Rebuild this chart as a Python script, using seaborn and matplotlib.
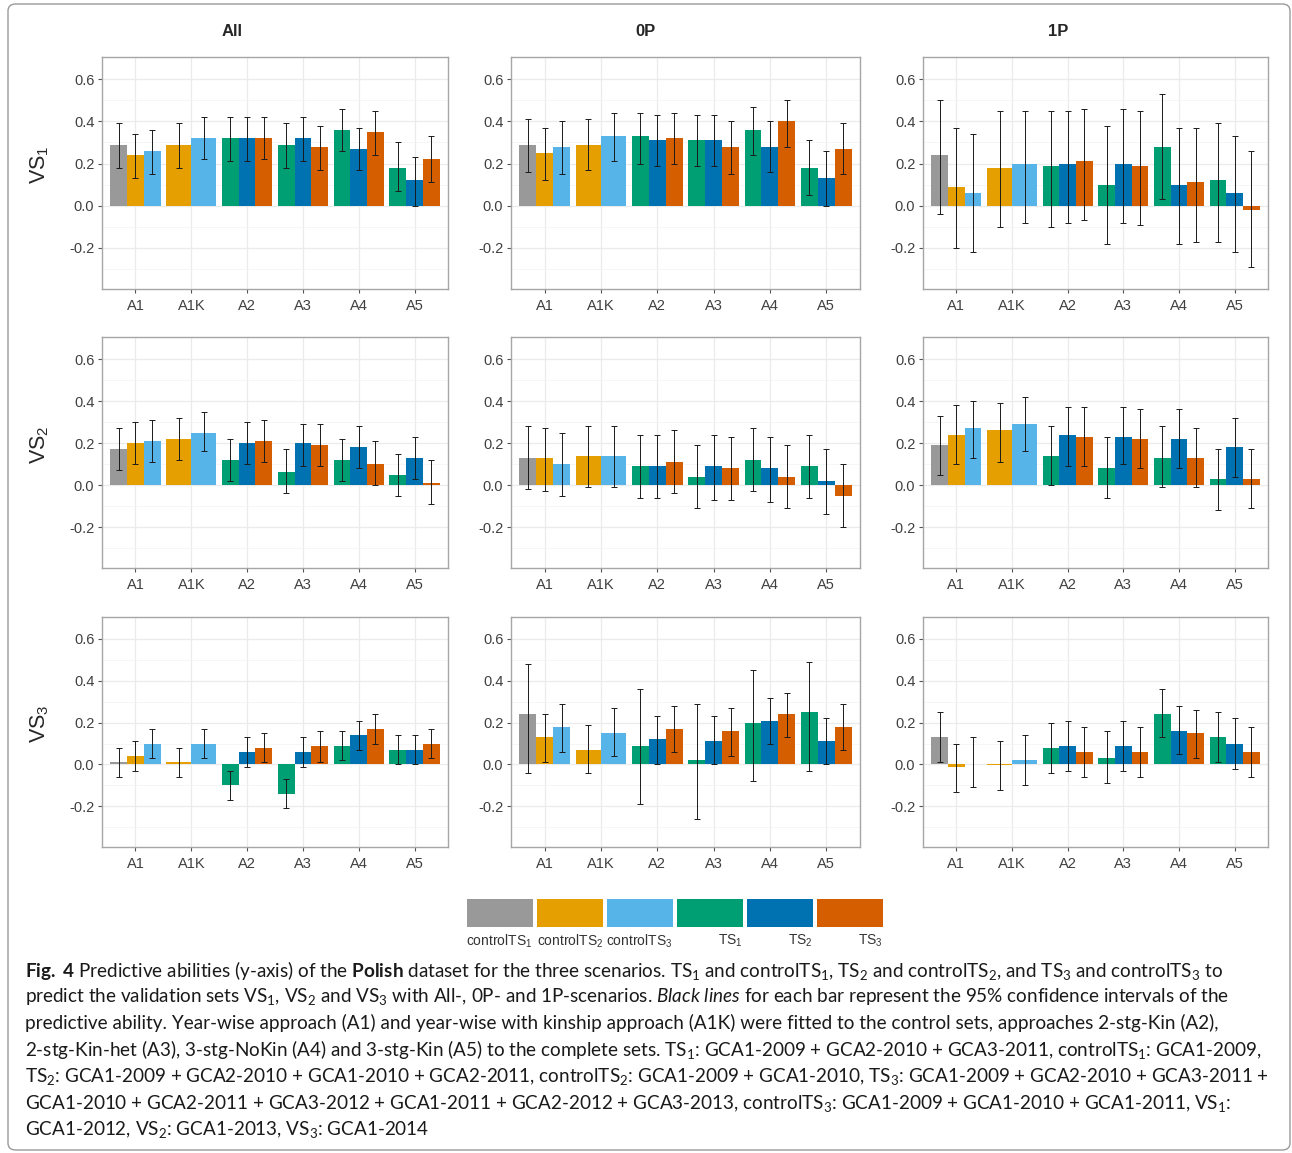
import numpy as np
import pandas as pd
import matplotlib
matplotlib.use("Agg")
import matplotlib.pyplot as plt
import seaborn as sns
from matplotlib.patches import Rectangle, FancyBboxPatch
from matplotlib.colors import to_rgba

# ---------------- data ----------------
APPROACHES = ["A1", "A1K", "A2", "A3", "A4", "A5"]
SETS = ["controlTS1", "controlTS2", "controlTS3", "TS1", "TS2", "TS3"]
SET_LABELS = ["controlTS$_1$", "controlTS$_2$", "controlTS$_3$", "TS$_1$", "TS$_2$", "TS$_3$"]
SET_COLORS = ["#999999", "#E69F00", "#56B4E9", "#009E73", "#0072B2", "#D55E00"]
SCENARIOS = ["All", "0P", "1P"]
VALIDATION = ["VS$_1$", "VS$_2$", "VS$_3$"]
Y_TICKS = [-0.2, 0.0, 0.2, 0.4, 0.6]
Y_TICK_LABELS = ["-0.2", "0.0", "0.2", "0.4", "0.6"]

BAR_APPROACH = ["A1"] * 3 + ["A1K"] * 2 + ["A2"] * 3 + ["A3"] * 3 + ["A4"] * 3 + ["A5"] * 3
BAR_SET = ["controlTS1", "controlTS2", "controlTS3", "controlTS2", "controlTS3"] + ["TS1", "TS2", "TS3"] * 4

# VS1
ALL_VS1 = [0.29, 0.24, 0.26, 0.29, 0.32, 0.32, 0.32, 0.32, 0.29, 0.32, 0.28, 0.36, 0.27, 0.35, 0.18, 0.12, 0.22]
ALL_VS1_LO = [0.18, 0.13, 0.15, 0.18, 0.22, 0.21, 0.21, 0.22, 0.18, 0.21, 0.17, 0.26, 0.17, 0.24, 0.07, 0.00, 0.11]
ALL_VS1_HI = [0.39, 0.34, 0.36, 0.39, 0.42, 0.42, 0.42, 0.42, 0.39, 0.42, 0.38, 0.46, 0.37, 0.45, 0.30, 0.23, 0.33]

P0_VS1 = [0.29, 0.25, 0.28, 0.29, 0.33, 0.33, 0.31, 0.32, 0.31, 0.31, 0.28, 0.36, 0.28, 0.40, 0.18, 0.13, 0.27]
P0_VS1_LO = [0.16, 0.12, 0.15, 0.17, 0.21, 0.20, 0.19, 0.20, 0.19, 0.19, 0.15, 0.24, 0.16, 0.28, 0.05, 0.00, 0.15]
P0_VS1_HI = [0.41, 0.37, 0.40, 0.41, 0.44, 0.44, 0.43, 0.44, 0.43, 0.43, 0.40, 0.47, 0.40, 0.50, 0.31, 0.26, 0.39]

P1_VS1 = [0.24, 0.09, 0.06, 0.18, 0.20, 0.19, 0.20, 0.21, 0.10, 0.20, 0.19, 0.28, 0.10, 0.11, 0.12, 0.06, -0.02]
P1_VS1_LO = [-0.04, -0.20, -0.22, -0.10, -0.08, -0.10, -0.08, -0.07, -0.18, -0.08, -0.09, 0.03, -0.18, -0.17, -0.17, -0.22, -0.29]
P1_VS1_HI = [0.50, 0.37, 0.34, 0.45, 0.45, 0.45, 0.45, 0.46, 0.38, 0.46, 0.45, 0.53, 0.37, 0.37, 0.39, 0.33, 0.26]

# VS2
ALL_VS2 = [0.17, 0.20, 0.21, 0.22, 0.25, 0.12, 0.20, 0.21, 0.06, 0.20, 0.19, 0.12, 0.18, 0.10, 0.05, 0.13, 0.01]
ALL_VS2_LO = [0.07, 0.10, 0.11, 0.12, 0.16, 0.02, 0.10, 0.11, -0.04, 0.09, 0.09, 0.02, 0.08, 0.00, -0.05, 0.03, -0.09]
ALL_VS2_HI = [0.27, 0.30, 0.31, 0.32, 0.35, 0.22, 0.30, 0.31, 0.17, 0.29, 0.29, 0.22, 0.28, 0.21, 0.15, 0.23, 0.12]

P0_VS2 = [0.13, 0.13, 0.10, 0.14, 0.14, 0.09, 0.09, 0.11, 0.04, 0.09, 0.08, 0.12, 0.08, 0.04, 0.09, 0.02, -0.05]
P0_VS2_LO = [-0.02, -0.03, -0.05, -0.01, -0.01, -0.06, -0.06, -0.04, -0.11, -0.07, -0.07, -0.03, -0.08, -0.11, -0.06, -0.14, -0.20]
P0_VS2_HI = [0.28, 0.27, 0.25, 0.28, 0.28, 0.24, 0.24, 0.26, 0.19, 0.24, 0.23, 0.27, 0.23, 0.19, 0.24, 0.17, 0.10]

P1_VS2 = [0.19, 0.24, 0.27, 0.26, 0.29, 0.14, 0.24, 0.23, 0.08, 0.23, 0.22, 0.13, 0.22, 0.13, 0.03, 0.18, 0.03]
P1_VS2_LO = [0.05, 0.10, 0.13, 0.11, 0.16, 0.00, 0.09, 0.09, -0.06, 0.10, 0.08, -0.01, 0.08, -0.01, -0.12, 0.04, -0.11]
P1_VS2_HI = [0.33, 0.38, 0.40, 0.39, 0.42, 0.28, 0.37, 0.37, 0.23, 0.37, 0.36, 0.28, 0.36, 0.27, 0.17, 0.32, 0.17]

# VS3
ALL_VS3 = [0.01, 0.04, 0.10, 0.01, 0.10, -0.10, 0.06, 0.08, -0.14, 0.06, 0.09, 0.09, 0.14, 0.17, 0.07, 0.07, 0.10]
ALL_VS3_LO = [-0.06, -0.03, 0.03, -0.06, 0.03, -0.17, -0.01, 0.01, -0.21, -0.01, 0.01, 0.02, 0.07, 0.10, 0.00, 0.00, 0.03]
ALL_VS3_HI = [0.08, 0.11, 0.17, 0.08, 0.17, -0.03, 0.13, 0.15, -0.07, 0.13, 0.16, 0.16, 0.21, 0.24, 0.14, 0.14, 0.17]

P0_VS3 = [0.24, 0.13, 0.18, 0.07, 0.15, 0.09, 0.12, 0.17, 0.02, 0.11, 0.16, 0.20, 0.21, 0.24, 0.25, 0.11, 0.18]
P0_VS3_LO = [-0.04, 0.01, 0.06, -0.04, 0.04, -0.19, 0.00, 0.06, -0.26, 0.00, 0.04, -0.08, 0.10, 0.13, -0.03, 0.00, 0.07]
P0_VS3_HI = [0.48, 0.24, 0.29, 0.19, 0.27, 0.36, 0.23, 0.28, 0.29, 0.23, 0.27, 0.45, 0.32, 0.34, 0.49, 0.22, 0.29]

P1_VS3 = [0.13, -0.01, 0.004, -0.003, 0.02, 0.08, 0.09, 0.06, 0.03, 0.09, 0.06, 0.24, 0.16, 0.15, 0.13, 0.10, 0.06]
P1_VS3_LO = [0.01, -0.13, -0.11, -0.12, -0.10, -0.04, -0.03, -0.06, -0.09, -0.03, -0.06, 0.13, 0.05, 0.03, 0.01, -0.02, -0.06]
P1_VS3_HI = [0.25, 0.10, 0.13, 0.11, 0.14, 0.20, 0.21, 0.18, 0.16, 0.21, 0.18, 0.36, 0.28, 0.26, 0.25, 0.22, 0.18]

PANELS = [
    [(ALL_VS1, ALL_VS1_LO, ALL_VS1_HI), (P0_VS1, P0_VS1_LO, P0_VS1_HI), (P1_VS1, P1_VS1_LO, P1_VS1_HI)],
    [(ALL_VS2, ALL_VS2_LO, ALL_VS2_HI), (P0_VS2, P0_VS2_LO, P0_VS2_HI), (P1_VS2, P1_VS2_LO, P1_VS2_HI)],
    [(ALL_VS3, ALL_VS3_LO, ALL_VS3_HI), (P0_VS3, P0_VS3_LO, P0_VS3_HI), (P1_VS3, P1_VS3_LO, P1_VS3_HI)],
]

CAPTION = [
    r"$\mathbf{Fig.}$ $\mathbf{4}$ Predictive abilities (y-axis) of the $\mathbf{Polish}$ dataset for the three scenarios. TS$_1$ and controlTS$_1$, TS$_2$ and controlTS$_2$, and TS$_3$ and controlTS$_3$ to",
    r"predict the validation sets VS$_1$, VS$_2$ and VS$_3$ with All-, 0P- and 1P-scenarios. $\mathit{Black}$ $\mathit{lines}$ for each bar represent the 95% confidence intervals of the",
    r"predictive ability. Year-wise approach (A1) and year-wise with kinship approach (A1K) were fitted to the control sets, approaches 2-stg-Kin (A2),",
    r"2-stg-Kin-het (A3), 3-stg-NoKin (A4) and 3-stg-Kin (A5) to the complete sets. TS$_1$: GCA1-2009 + GCA2-2010 + GCA3-2011, controlTS$_1$: GCA1-2009,",
    r"TS$_2$: GCA1-2009 + GCA2-2010 + GCA1-2010 + GCA2-2011, controlTS$_2$: GCA1-2009 + GCA1-2010, TS$_3$: GCA1-2009 + GCA2-2010 + GCA3-2011 +",
    r"GCA1-2010 + GCA2-2011 + GCA3-2012 + GCA1-2011 + GCA2-2012 + GCA3-2013, controlTS$_3$: GCA1-2009 + GCA1-2010 + GCA1-2011, VS$_1$:",
    r"GCA1-2012, VS$_2$: GCA1-2013, VS$_3$: GCA1-2014",
]

# ---------------- style ----------------
sns.set_style("white")
plt.rcParams["font.family"] = ["Liberation Sans", "DejaVu Sans"]
plt.rcParams["mathtext.fontset"] = "custom"
plt.rcParams["mathtext.default"] = "regular"
plt.rcParams["mathtext.rm"] = "Lato"
plt.rcParams["mathtext.bf"] = "Lato:bold"
plt.rcParams["mathtext.it"] = "Lato:italic"
plt.rcParams["axes.unicode_minus"] = False

PALETTE = dict(zip(SETS, SET_COLORS))
W, H = 1292, 1153
fig = plt.figure(figsize=(W / 100, H / 100), dpi=100)

COLS = [(102, 448), (511, 860), (923, 1268)]
ROWS = [(57, 289), (337, 568), (617, 847)]
GROUPS = [(["A1"], SETS[0:3]), (["A1K"], SETS[1:3]), (APPROACHES[2:], SETS[3:6])]


def draw_panel(ax, vals, lo, hi):
    df = pd.DataFrame({"approach": BAR_APPROACH, "set": BAR_SET, "pa": vals, "lo": lo, "hi": hi})
    for apps, hues in GROUPS:
        sub = df[df["approach"].isin(apps)]
        sns.barplot(data=sub, x="approach", y="pa", hue="set", order=APPROACHES,
                    hue_order=hues, palette=PALETTE, width=0.9, gap=0,
                    errorbar=None, legend=False, saturation=1, linewidth=0, ax=ax)
    # error bars placed at the centres of the bars seaborn drew
    for p in ax.patches:
        cx = p.get_x() + p.get_width() / 2
        app = APPROACHES[int(round(cx))]
        fc = p.get_facecolor()
        s = [k for k in SETS if np.allclose(to_rgba(PALETTE[k])[:3], fc[:3], atol=0.01)][0]
        row = df[(df["approach"] == app) & (df["set"] == s)].iloc[0]
        ax.errorbar(cx, row["pa"], yerr=[[row["pa"] - row["lo"]], [row["hi"] - row["pa"]]],
                    fmt="none", ecolor="#1a1a1a", elinewidth=0.7, capsize=2.2, capthick=0.7,
                    zorder=5)
    ax.set_xlim(-0.6, 5.6)
    ax.set_ylim(-0.395, 0.705)
    ax.set_yticks(Y_TICKS)
    ax.set_yticklabels(Y_TICK_LABELS)
    ax.set_yticks([-0.3, -0.1, 0.1, 0.3, 0.5], minor=True)
    ax.set_xticks(range(len(APPROACHES)))
    ax.set_xticklabels(APPROACHES)
    ax.set_xlabel("")
    ax.set_ylabel("")
    ax.set_axisbelow(True)
    ax.grid(which="major", color="#ebebeb", linewidth=0.9)
    ax.grid(which="minor", axis="y", color="#f3f3f3", linewidth=0.5)
    ax.tick_params(which="major", length=3, width=0.8, color="#555555", labelsize=10.5,
                   labelcolor="#404040", pad=2.5, left=True, bottom=True)
    ax.tick_params(axis="x", which="major", pad=4)
    ax.tick_params(which="minor", length=0)
    for sp in ax.spines.values():
        sp.set_visible(True)
        sp.set_color("#a6a6a6")
        sp.set_linewidth(1.0)


for r, (top, bot) in enumerate(ROWS):
    for c, (left, right) in enumerate(COLS):
        ax = fig.add_axes([left / W, 1 - bot / H, (right - left) / W, (bot - top) / H])
        vals, lo, hi = PANELS[r][c]
        draw_panel(ax, vals, lo, hi)

# column titles
for name, x in zip(SCENARIOS, [232, 645, 1058]):
    fig.text(x / W, 1 - 31 / H, name, ha="center", va="center", fontsize=12, fontweight="bold")
# row titles
for name, (top, bot) in zip(VALIDATION, ROWS):
    fig.text(40 / W, 1 - ((top + bot) / 2 - 8) / H, name, ha="center", va="center",
             fontsize=15.5, rotation=90)

# legend
lax = fig.add_axes([465 / W, 1 - 927 / H, 420 / W, 28 / H])
lax.set_xlim(0, 6)
lax.set_ylim(0, 1)
lax.axis("off")
for i, (lab, col) in enumerate(zip(SET_LABELS, SET_COLORS)):
    lax.add_patch(Rectangle((i + 0.03, 0.0), 0.94, 1.0, facecolor=col, edgecolor="none"))
    lax.text(i + 0.97, -0.2, lab, ha="right", va="top", fontsize=10, color="#333333")

# caption
for k, line in enumerate(CAPTION):
    fig.text(25 / W, 1 - (970 + k * 26.6) / H, line, ha="left", va="center",
             fontsize=13.6, family="Lato", color="#1a1a1a")

# outer frame
fig.patches.append(FancyBboxPatch((8 / W, 3 / H), 1282 / W, 1146 / H,
                                  boxstyle="round,pad=0,rounding_size=0.006",
                                  transform=fig.transFigure, facecolor="none",
                                  edgecolor="#9a9a9a", linewidth=1.0))

fig.savefig("out.png", dpi=100)
